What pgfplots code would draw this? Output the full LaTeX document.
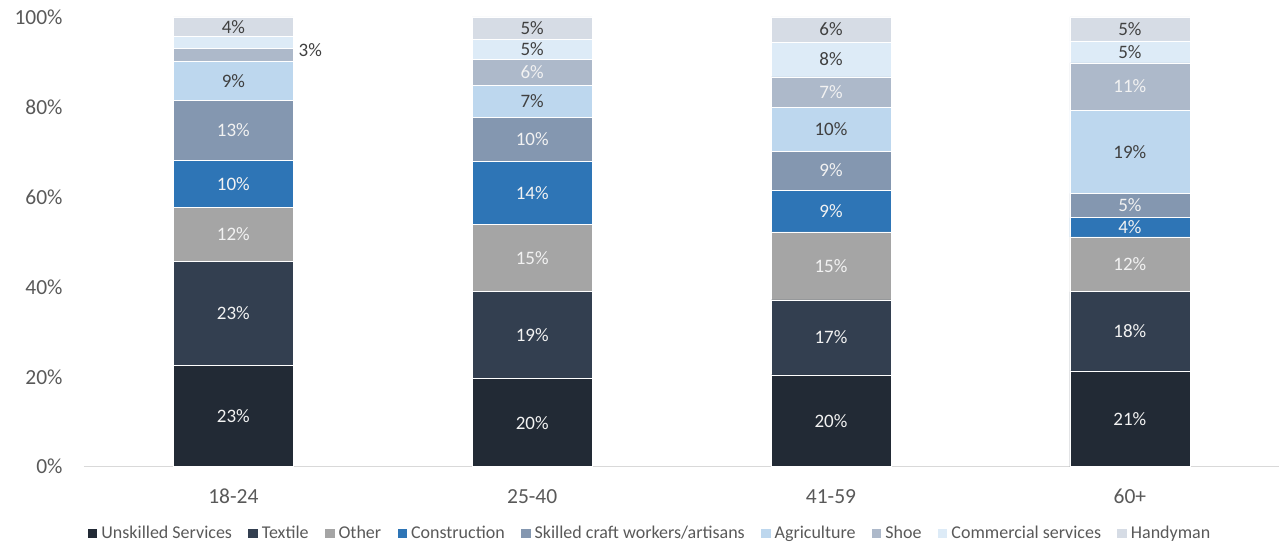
\documentclass[border=0pt]{standalone}
\usepackage{pgfplots}
\pgfplotsset{compat=1.18}
\usepackage{fontspec}
\setmainfont{Carlito}
\definecolor{cU}{HTML}{222A35}
\definecolor{cT}{HTML}{333F50}
\definecolor{cO}{HTML}{A5A5A5}
\definecolor{cC}{HTML}{2E75B6}
\definecolor{cS}{HTML}{8497B0}
\definecolor{cA}{HTML}{BDD7EE}
\definecolor{cH}{HTML}{ADB9CA}
\definecolor{cM}{HTML}{DDEBF7}
\definecolor{cY}{HTML}{D6DCE5}
\definecolor{tickgray}{HTML}{595959}
\definecolor{axisgray}{HTML}{D9D9D9}
\definecolor{labdark}{HTML}{404040}
\definecolor{labwhite}{HTML}{F2F2F2}
\protected\def\lb#1{#1\%}
\protected\def\ol#1{\textcolor{labdark}{#1\%}}
\protected\def\nl#1{}
\pgfplotsset{
  ser/.style={draw=white, line width=0.3pt,
    legend image code/.code={\fill[##1,draw=none] (0pt,-2.4pt) rectangle (4.75pt,2.4pt);}},
  lbl/.style={nodes near coords, point meta=explicit symbolic,
    visualization depends on={\thisrow{dx}\as\dxv},
    visualization depends on={\thisrow{dy}\as\dyv},
    every node near coord/.append style={anchor=center, inner sep=0pt,
      font=\fontsize{9.5}{11}\selectfont, text=#1, xshift=\dxv pt, yshift=\dyv pt}},
}
\begin{document}
\begin{tikzpicture}
\begin{axis}[
  scale only axis, width=598pt, height=225pt,
  ybar stacked, bar width=60pt,
  xmin=-0.5, xmax=3.5, ymin=0, ymax=100,
  xtick={0,1,2,3}, xticklabels={18-24,25-40,41-59,60+},
  ytick={0,20,40,60,80,100}, yticklabels={0\%,20\%,40\%,60\%,80\%,100\%},
  tick style={draw=none}, major tick length=0pt,
  axis lines*=left, axis line style={-},
  y axis line style={draw=none},
  x axis line style={draw=axisgray, line width=0.75pt},
  tick label style={font=\fontsize{10.75}{12}\selectfont, text=tickgray, inner sep=0pt},
  yticklabel style={anchor=east, xshift=-10.5pt},
  xticklabel style={anchor=north, yshift=-11pt},
  legend style={at={(0.4745,-0.1489)}, anchor=center, draw=none, fill=none,
    legend columns=9, font=\fontsize{9}{11}\selectfont, text=tickgray,
    /tikz/every even column/.append style={column sep=6.2pt}},
  clip=false,
]
\addplot[fill=cU, ser, lbl=labwhite] table[meta=l] {
x y l dx dy
0 22.6 \lb{23} 0 0
1 19.6 \lb{20} 0 0
2 20.4 \lb{20} 0 0
3 21.3 \lb{21} 0 0
};
\addlegendentry{Unskilled Services}
\addplot[fill=cT, ser, lbl=labwhite] table[meta=l] {
x y l dx dy
0 23.0 \lb{23} 0 0
1 19.3 \lb{19} 0 0
2 16.7 \lb{17} 0 0
3 17.6 \lb{18} 0 0
};
\addlegendentry{Textile}
\addplot[fill=cO, ser, lbl=labwhite] table[meta=l] {
x y l dx dy
0 12.1 \lb{12} 0 0
1 15.0 \lb{15} 0 0
2 15.1 \lb{15} 0 0
3 12.2 \lb{12} 0 0
};
\addlegendentry{Other}
\addplot[fill=cC, ser, lbl=labwhite] table[meta=l] {
x y l dx dy
0 10.4 \lb{10} 0 0
1 14.0 \lb{14} 0 0
2 9.3 \lb{9} 0 0
3 4.3 \lb{4} 0 0
};
\addlegendentry{Construction}
\addplot[fill=cS, ser, lbl=labwhite] table[meta=l] {
x y l dx dy
0 13.3 \lb{13} 0 0
1 9.7 \lb{10} 0 0
2 8.7 \lb{9} 0 0
3 5.4 \lb{5} 0 0
};
\addlegendentry{Skilled craft workers/artisans}
\addplot[fill=cA, ser, lbl=labdark] table[meta=l] {
x y l dx dy
0 8.7 \lb{9} 0 0
1 7.2 \lb{7} 0 0
2 9.7 \lb{10} 0 0
3 18.5 \lb{19} 0 0
};
\addlegendentry{Agriculture}
\addplot[fill=cH, ser, lbl=labwhite] table[meta=l] {
x y l dx dy
0 3.0 \ol{3} 38.5 2.5
1 5.8 \lb{6} 0 0
2 6.8 \lb{7} 0 0
3 10.5 \lb{11} 0 0
};
\addlegendentry{Shoe}
\addplot[fill=cM, ser, lbl=labdark] table[meta=l] {
x y l dx dy
0 2.6 \nl{} 0 0
1 4.5 \lb{5} 0 0
2 7.7 \lb{8} 0 0
3 4.9 \lb{5} 0 0
};
\addlegendentry{Commercial services}
\addplot[fill=cY, ser, lbl=labdark] table[meta=l] {
x y l dx dy
0 4.3 \lb{4} 0 0
1 4.9 \lb{5} 0 0
2 5.6 \lb{6} 0 0
3 5.3 \lb{5} 0 0
};
\addlegendentry{Handyman}
\end{axis}
\path[use as bounding box] ([shift={(-42pt,-39.5pt)}]current axis.south west) rectangle ([shift={(0pt,8.5pt)}]current axis.north east);
\end{tikzpicture}
\end{document}
